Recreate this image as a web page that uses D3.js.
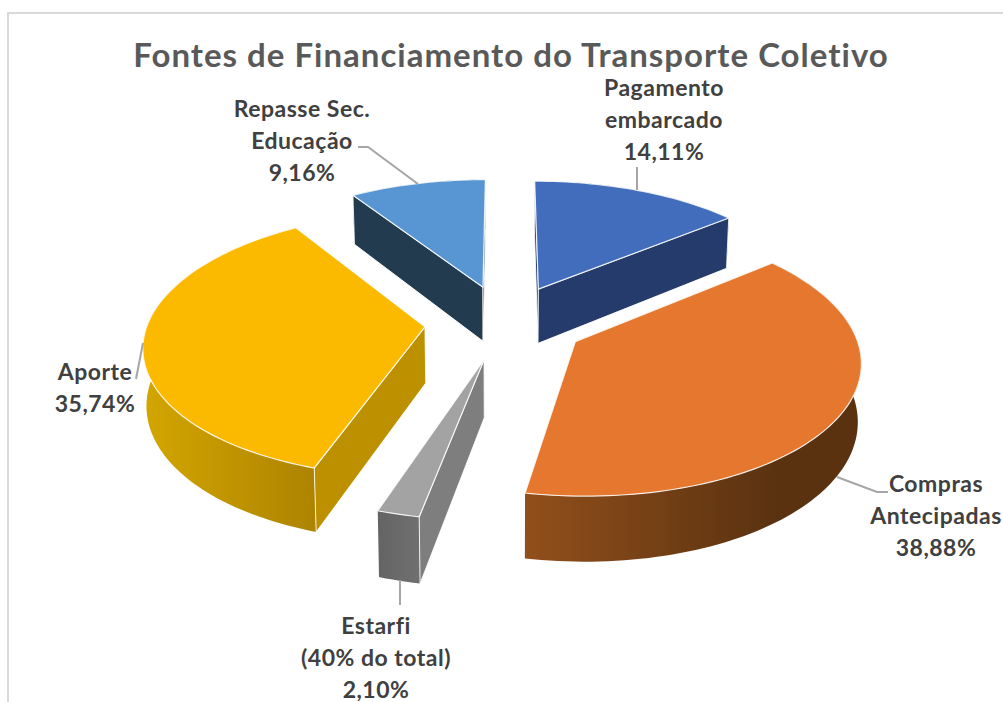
<!DOCTYPE html>
<html>
<head>
<meta charset="utf-8">
<script src="https://cdn.jsdelivr.net/npm/d3@7"></script>
<style>
  html, body { margin: 0; padding: 0; background: #fff; overflow: hidden; }
  text { font-family: Lato, "Open Sans", sans-serif; font-weight: 700; }
</style>
</head>
<body>
<div id="chart"></div>
<script>
// Data
var title = "Fontes de Financiamento do Transporte Coletivo";
var categories = [["Pagamento", "embarcado"], ["Compras", "Antecipadas"], ["Estarfi", "(40% do total)"], ["Aporte"], ["Repasse Sec.", "Educação"]];
var values = [14.11, 38.88, 2.10, 35.74, 9.16];

// Slice styles
var topColors = ["#416DBC", "#E5782E", "#A3A3A3", "#FBB900", "#5795D3"];
var radialColors = ["#243B6B", "#5B3210", "#7E7E7E", "#BD9000", "#223B4F"];
var rimColors = [
  ["#243B6B", "#243B6B"],
  ["#914F1B", "#5A3210"],
  ["#707070", "#646464"],
  ["#AE8300", "#D2A500"],
  ["#223B4F", "#223B4F"]
];
// Angle span (radians) over which the outer wall goes from the first rim colour to the second
var rimSpan = [1, 0.85, 0.13, 1.25, 0.57];

// Label layout: centre x and first baseline of each block, line step, leader line
var labelX = [664, 936, 376, 95, 302];
var labelY = [96, 492, 634, 380, 117];
var lineStep = 32;
var leaders = [
  [[637, 167], [637, 190]],
  [[837, 477], [877, 492], [888, 492]],
  [[400, 580], [400, 605]],
  [[143, 343], [136, 379]],
  [[358, 147], [368, 147], [418, 184]]
];

var width = 1003;
var height = 702;

// Pie geometry and perspective
var explode = 0.29;
var perspective = 0.127;
var thickness = 56;
var baseShrink = 0.99;

var x = d3.scaleLinear().domain([-1, 1]).range([228, 782]);
var y = d3.scaleLinear().domain([-1, 1]).range([451.5, 192.5]);

// Takes a point on the pie plane (u right, v to the back), returns screen position
function project(u, v, bottom) {
  var s = 1 / (1 + perspective * v);
  var px = x(u * s);
  var py = y(v * s);
  if (bottom) {
    px = x(0) + (px - x(0)) * baseShrink;
    py = py + thickness * s;
  }
  return [px, py];
}

var svg = d3.select("#chart")
  .append("svg")
  .attr("width", width)
  .attr("height", height);

var defs = svg.append("defs");

// Frame of the chart area, runs off the page on the right and bottom
svg.append("rect")
  .attr("x", 8)
  .attr("y", 13)
  .attr("width", 1100)
  .attr("height", 800)
  .attr("fill", "#fff")
  .attr("stroke", "#D9D9D9")
  .attr("stroke-width", 2);

var pie = d3.pie().sort(null).value(function(d) { return d; });
var slices = pie(values);
var line = d3.line();

slices.forEach(function(d, i) {
  var mid = (d.startAngle + d.endAngle) / 2;
  var tipU = explode * Math.sin(mid);
  var tipV = explode * Math.cos(mid);
  var steps = Math.max(3, Math.ceil((d.endAngle - d.startAngle) / (Math.PI / 120)));
  var angles = d3.range(steps + 1).map(function(k) {
    return d.startAngle + (d.endAngle - d.startAngle) * k / steps;
  });
  var rim = function(a, bottom) {
    return project(tipU + Math.sin(a), tipV + Math.cos(a), bottom);
  };
  var g = svg.append("g").attr("class", "slice");

  // Outer wall with a left-right gradient. Orange fades from its end angle, the others from the start
  var fromAngle = i === 1 ? d.endAngle : d.startAngle;
  var toAngle = i === 1 ? d.endAngle - rimSpan[i] : d.startAngle + rimSpan[i];
  var gradient = defs.append("linearGradient")
    .attr("id", "rim" + i)
    .attr("gradientUnits", "userSpaceOnUse")
    .attr("x1", rim(fromAngle)[0])
    .attr("x2", rim(toAngle)[0])
    .attr("y1", 0)
    .attr("y2", 0);
  gradient.append("stop").attr("offset", 0).attr("stop-color", rimColors[i][0]);
  gradient.append("stop").attr("offset", 1).attr("stop-color", rimColors[i][1]);

  var wallPoints = angles.map(function(a) { return rim(a); })
    .concat(angles.slice().reverse().map(function(a) { return rim(a, true); }));
  g.append("path")
    .attr("d", line(wallPoints) + "Z")
    .attr("fill", "url(#rim" + i + ")");

  // Straight walls, only the ones that face the viewer
  var tipTop = project(tipU, tipV);
  var tipBottom = project(tipU, tipV, true);
  [d.startAngle, d.endAngle].forEach(function(a, side) {
    var wall = [tipTop, rim(a), rim(a, true), tipBottom];
    var area = d3.polygonArea(wall);
    if ((side === 0 && area > 0) || (side === 1 && area < 0)) {
      g.append("path")
        .attr("d", line(wall) + "Z")
        .attr("fill", radialColors[i])
        .attr("stroke", "#fff")
        .attr("stroke-opacity", 0.85)
        .attr("stroke-width", 1);
    }
  });

  // Top face
  var face = [tipTop].concat(angles.map(function(a) { return rim(a); }));
  g.append("path")
    .attr("d", line(face) + "Z")
    .attr("fill", topColors[i])
    .attr("stroke", "#fff")
    .attr("stroke-opacity", 0.85)
    .attr("stroke-width", 1.2);
});

// Leader lines
svg.selectAll(".leader")
  .data(leaders)
  .enter()
  .append("path")
  .attr("class", "leader")
  .attr("d", function(d) { return line(d); })
  .attr("fill", "none")
  .attr("stroke", "#A6A6A6")
  .attr("stroke-width", 2);

// Title
svg.append("text")
  .attr("x", 511)
  .attr("y", 67)
  .attr("text-anchor", "middle")
  .attr("font-size", 33)
  .attr("letter-spacing", 1)
  .attr("fill", "#595959")
  .text(title);

// Data labels
var formatPercent = function(v) { return d3.format(".2f")(v).replace(".", ",") + "%"; };
values.forEach(function(v, i) {
  categories[i].concat([formatPercent(v)]).forEach(function(t, k) {
    svg.append("text")
      .attr("x", labelX[i])
      .attr("y", labelY[i] + k * lineStep)
      .attr("text-anchor", "middle")
      .attr("font-size", 23)
      .attr("letter-spacing", 0.5)
      .attr("fill", "#404040")
      .text(t);
  });
});
</script>
</body>
</html>
